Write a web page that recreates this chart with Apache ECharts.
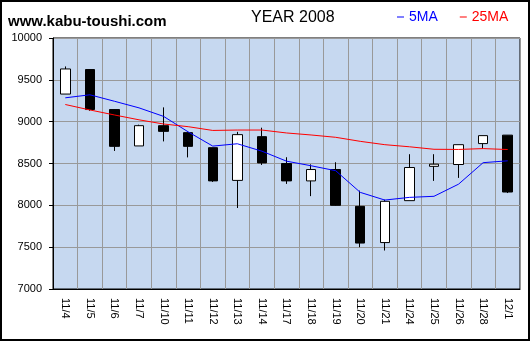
<!DOCTYPE html>
<html>
<head>
<meta charset="utf-8">
<script src="https://cdn.jsdelivr.net/npm/echarts@6/dist/echarts.min.js"></script>
<style>
  html, body { margin: 0; padding: 0; background: #fff; }
  #chart { width: 530px; height: 341px; }
</style>
</head>
<body>
<div id="chart"></div>
<script>
// Daily prices, November 2008
const dates = ['11/4','11/5','11/6','11/7','11/10','11/11','11/12','11/13','11/14','11/17','11/18','11/19','11/20','11/21','11/24','11/25','11/26','11/28','12/1'];
const openPrices  = [9330,9623,9145,8710,8952,8869,8689,8298,8821,8500,8292,8428,7988,7555,8056,8466,8488,8738,8839];
const closePrices = [9630,9145,8705,8952,8884,8705,8292,8845,8507,8292,8428,8000,7549,8048,8452,8492,8725,8833,8159];
const lowPrices   = [9330,9130,8650,8710,8764,8573,8280,7968,8483,8256,8110,7995,7500,7460,8056,8292,8328,8678,8147];
const highPrices  = [9660,9625,9150,8964,9171,8870,8690,8878,8928,8575,8490,8515,8176,8068,8611,8611,8725,8833,8840];

// Moving averages
const ma5  = [9285,9321,9244,9165,9063,8878,8708,8736,8647,8528,8473,8414,8155,8063,8095,8108,8253,8510,8532];
const ma25 = [9205,9140,9080,9022,8972,8940,8895,8900,8900,8865,8841,8813,8765,8725,8700,8670,8668,8678,8667];

// Price axis ticks
const yMin = 7000, yMax = 10000, yStep = 500;

// ECharts candlestick order: [open, close, lowest, highest]
const candles = dates.map((d, i) => [openPrices[i], closePrices[i], lowPrices[i], highPrices[i]]);

const FONT = 'Liberation Sans, Arial, sans-serif';

const chart = echarts.init(document.getElementById('chart'), null, { renderer: 'canvas' });
chart.setOption({
  animation: false,
  backgroundColor: '#ffffff',
  title: [
    {
      text: 'www.kabu-toushi.com',
      left: 3, top: 9,
      textStyle: { fontFamily: FONT, fontSize: 15, fontWeight: 'bold', color: '#000' }
    },
    {
      text: 'YEAR 2008',
      left: 246, top: 5,
      textStyle: { fontFamily: FONT, fontSize: 16, fontWeight: 'normal', color: '#000' }
    }
  ],
  legend: {
    left: 392, top: 5,
    icon: 'rect',
    itemWidth: 7, itemHeight: 1,
    itemGap: 22,
    data: [
      { name: '5MA', textStyle: { color: '#0000ff' } },
      { name: '25MA', textStyle: { color: '#ff0000' } }
    ],
    textStyle: { fontFamily: FONT, fontSize: 14 }
  },
  grid: {
    left: 53, top: 38, right: 10, bottom: 52,
    show: true,
    backgroundColor: '#c6d8f0',
    borderColor: '#000',
    borderWidth: 1
  },
  xAxis: {
    type: 'category',
    data: dates,
    boundaryGap: true,
    axisLine: { show: true, lineStyle: { color: '#000', width: 1 } },
    axisTick: { show: false },
    splitLine: { show: true, lineStyle: { color: '#999999', width: 1 } },
    axisLabel: {
      rotate: -90, margin: 9, interval: 0,
      fontFamily: FONT, fontSize: 11, color: '#000'
    }
  },
  yAxis: {
    type: 'value',
    min: yMin, max: yMax, interval: yStep,
    axisLine: { show: true, lineStyle: { color: '#000', width: 1 } },
    axisTick: { show: true, inside: false, length: 4, lineStyle: { color: '#000' } },
    splitLine: { show: true, lineStyle: { color: '#999999', width: 1 } },
    axisLabel: {
      margin: 11, fontFamily: FONT, fontSize: 11, color: '#000',
      formatter: (v) => String(v)
    }
  },
  series: [
    {
      type: 'candlestick',
      name: 'price',
      data: candles,
      barWidth: 10,
      itemStyle: {
        color: '#ffffff',
        color0: '#000000',
        borderColor: '#000000',
        borderColor0: '#000000',
        borderWidth: 1
      }
    },
    {
      type: 'line',
      name: '5MA',
      data: ma5,
      symbol: 'none',
      color: '#0000ff',
      lineStyle: { color: '#0000ff', width: 1 },
      z: 3
    },
    {
      type: 'line',
      name: '25MA',
      data: ma25,
      symbol: 'none',
      color: '#ff0000',
      lineStyle: { color: '#ff0000', width: 1 },
      z: 3
    }
  ],
  graphic: [
    {
      type: 'rect',
      shape: { x: 1, y: 1, width: 528, height: 339 },
      style: { fill: 'none', stroke: '#000', lineWidth: 2 },
      z: 100
    }
  ]
});
</script>
</body>
</html>
